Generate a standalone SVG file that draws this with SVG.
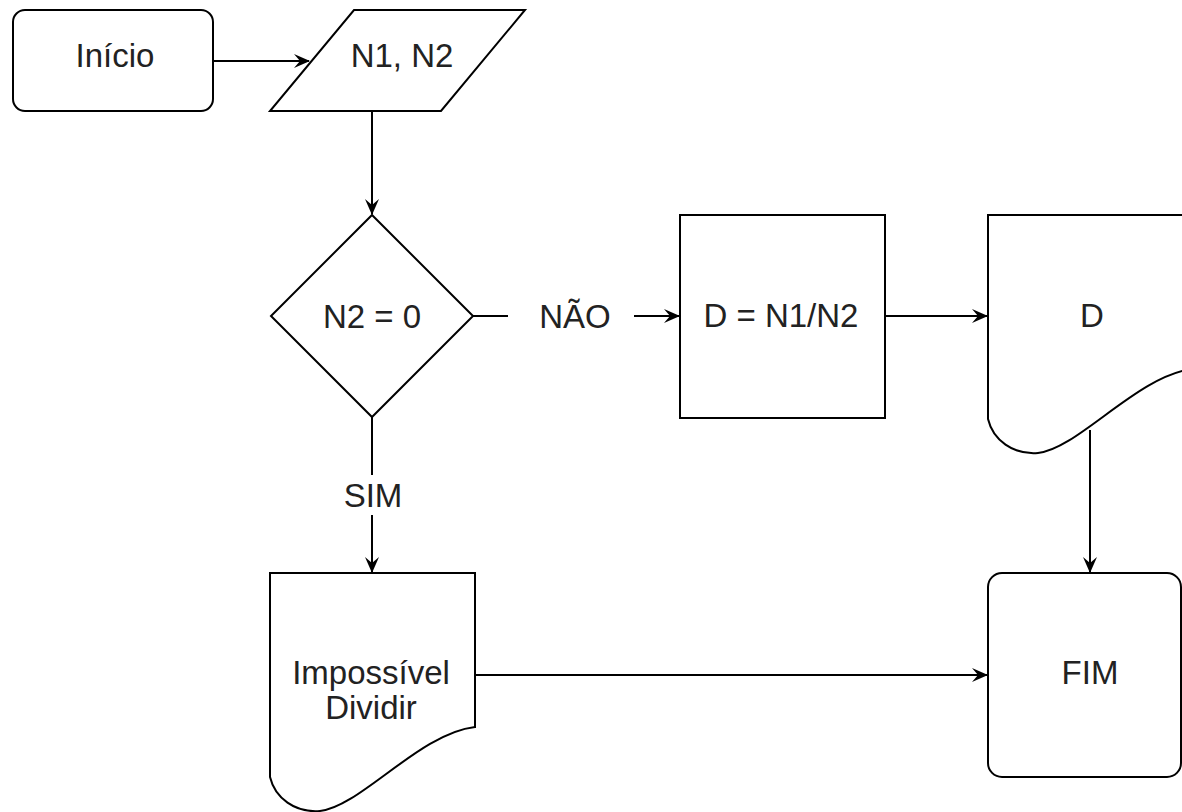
<svg xmlns="http://www.w3.org/2000/svg" width="1182" height="812" viewBox="0 0 1182 812">
<defs>
<marker id="arr" viewBox="0 0 16 14" refX="15" refY="7" markerWidth="16" markerHeight="14" markerUnits="userSpaceOnUse" orient="auto">
<path d="M0,0 L16,7 L0,14 L6,7 Z" fill="#000"/>
</marker>
</defs>
<style>
.shape{fill:#fff;stroke:#000;stroke-width:2}
.edge{fill:none;stroke:#000;stroke-width:2}
.lbl{font-family:"Liberation Sans",Arial,sans-serif;font-size:33px;fill:#222;text-anchor:middle}
</style>
<rect width="1182" height="812" fill="#fff"/>
<g id="connectors">
<line class="edge" x1="213" y1="61" x2="309" y2="61" marker-end="url(#arr)"/>
<line class="edge" x1="372" y1="111" x2="372" y2="214" marker-end="url(#arr)"/>
<line class="edge" x1="473" y1="316" x2="679" y2="316" marker-end="url(#arr)"/>
<line class="edge" x1="885" y1="316" x2="987" y2="316" marker-end="url(#arr)"/>
<line class="edge" x1="1090" y1="430" x2="1090" y2="572" marker-end="url(#arr)"/>
<line class="edge" x1="372" y1="417" x2="372" y2="572" marker-end="url(#arr)"/>
<line class="edge" x1="475" y1="675" x2="987" y2="675" marker-end="url(#arr)"/>
<rect x="508" y="296" width="126" height="40" fill="#fff"/>
<text class="lbl" x="575" y="328">NÃO</text>
<rect x="337" y="475" width="70" height="40" fill="#fff"/>
<text class="lbl" x="373" y="507">SIM</text>
</g>
<g id="inicio">
<rect class="shape" x="13" y="10" width="200" height="101" rx="12"/>
<text class="lbl" x="115" y="67">Início</text>
</g>
<g id="entrada">
<polygon class="shape" points="354,10 525,10 441,111 270,111"/>
<text class="lbl" x="402" y="67">N1, N2</text>
</g>
<g id="decisao">
<polygon class="shape" points="372,215 473,316 372,417 271,316"/>
<text class="lbl" x="372" y="328">N2 = 0</text>
</g>
<g id="calculo">
<rect class="shape" x="680" y="215" width="205" height="203"/>
<text class="lbl" x="781" y="327">D = N1/N2</text>
</g>
<g id="saidaD">
<path class="shape" d="M988,215 H1193 V369 C1138,375 1078,449 1038,453 C1013,455 993,440 988,419 Z"/>
<text class="lbl" x="1092" y="327">D</text>
</g>
<g id="impossivel">
<path class="shape" d="M270,573 H475 V727 C420,733 360,807 320,811 C295,813 275,798 270,777 Z"/>
<text class="lbl" x="371" y="684">Impossível</text>
<text class="lbl" x="371" y="719">Dividir</text>
</g>
<g id="fim">
<rect class="shape" x="988" y="573" width="193" height="204" rx="14"/>
<text class="lbl" x="1090" y="684">FIM</text>
</g>
</svg>
